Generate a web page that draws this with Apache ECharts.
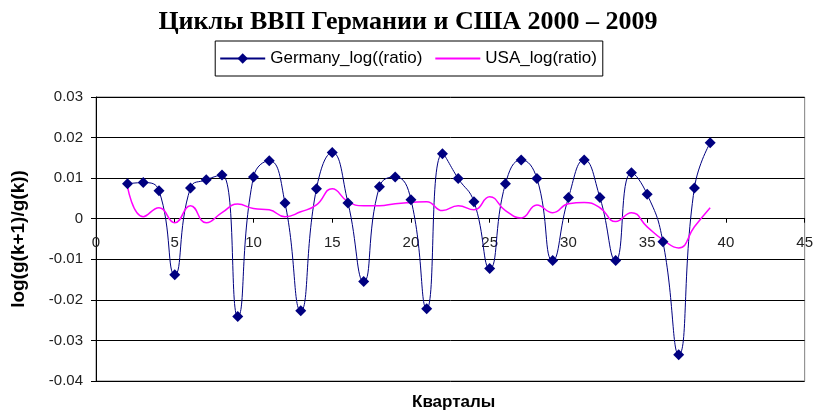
<!DOCTYPE html>
<html>
<head>
<meta charset="utf-8">
<script src="https://cdn.jsdelivr.net/npm/echarts@6/dist/echarts.min.js"></script>
<style>
  html, body { margin: 0; padding: 0; background: #fff; }
  #chart { width: 816px; height: 410px; }
</style>
</head>
<body>
<div id="chart"></div>
<script>
// quarters (x values)
const quarters = [2, 3, 4, 5, 6, 7, 8, 9, 10, 11, 12, 13, 14, 15, 16, 17, 18, 19, 20,
  21, 22, 23, 24, 25, 26, 27, 28, 29, 30, 31, 32, 33, 34, 35, 36, 37, 38, 39];

const germany = [0.0086, 0.0089, 0.0069, -0.0138, 0.0076, 0.0096, 0.0108, -0.0241, 0.0103, 0.0143,
  0.0039, -0.0227, 0.0074, 0.0163, 0.0039, -0.0155, 0.0079, 0.0103, 0.0047, -0.0222,
  0.0160, 0.0099, 0.0042, -0.0123, 0.0086, 0.0145, 0.0099, -0.0103, 0.0052, 0.0145,
  0.0052, -0.0103, 0.0113, 0.0060, -0.0057, -0.0335, 0.0076, 0.0187];

const usa = [0.0079, 0.0005, 0.0027, -0.0010, 0.0032, -0.0010, 0.0015, 0.0036, 0.0025, 0.0022,
  0.0005, 0.0017, 0.0034, 0.0074, 0.0042, 0.0032, 0.0032, 0.0037, 0.0040, 0.0042,
  0.0020, 0.0032, 0.0022, 0.0054, 0.0020, 0.0002, 0.0034, 0.0015, 0.0037, 0.0040,
  0.0027, -0.0007, 0.0015, -0.0020, -0.0052, -0.0072, -0.0020, 0.0027];

const xTicks = { min: 0, max: 45, step: 5 };
const yTicks = { min: -0.04, max: 0.03, step: 0.01 };

const gridTop = 97, gridBottom = 29, chartH = 410;
const plotH = chartH - gridTop - gridBottom;
// x axis sits on y = 0: shift it up from the bottom edge by the share of the range below zero
const xAxisOffset = -plotH * (0 - yTicks.min) / (yTicks.max - yTicks.min);

const chart = echarts.init(document.getElementById('chart'));

chart.setOption({
  animation: false,
  backgroundColor: '#fff',
  title: [
    {
      text: 'Циклы ВВП Германии и США 2000 – 2009',
      left: 'center',
      top: 4,
      textStyle: { fontFamily: 'Liberation Serif', fontWeight: 'bold', fontSize: 26, color: '#000' }
    },
    {
      text: 'Кварталы',
      left: 407,
      top: 389,
      textStyle: { fontFamily: 'Liberation Sans', fontWeight: 'bold', fontSize: 17, color: '#000' }
    }
  ],
  legend: {
    top: 41,
    left: 'center',
    borderColor: '#000',
    borderWidth: 1,
    padding: [9, 6, 9, 4],
    itemWidth: 45,
    itemHeight: 13,
    itemGap: 12,
    textStyle: { fontFamily: 'Liberation Sans', fontSize: 17, color: '#000' },
    data: [
      'Germany_log((ratio)',
      { name: 'USA_log(ratio)', itemStyle: { opacity: 0 } }
    ]
  },
  grid: {
    left: 96, right: 10, top: gridTop, bottom: gridBottom,
    show: true, borderColor: '#808080', borderWidth: 1
  },
  xAxis: {
    type: 'value',
    position: 'bottom',
    offset: xAxisOffset,
    min: xTicks.min, max: xTicks.max, interval: xTicks.step,
    axisLine: { onZero: false, lineStyle: { color: '#000', width: 1 } },
    axisTick: { show: true, inside: false, length: 4, lineStyle: { color: '#000' } },
    axisLabel: { margin: 17, fontFamily: 'Liberation Sans', fontSize: 15, color: '#222' },
    splitLine: { show: false }
  },
  yAxis: {
    type: 'value',
    min: yTicks.min, max: yTicks.max, interval: yTicks.step,
    name: 'log(g(k+1)/g(k))',
    nameLocation: 'middle',
    nameRotate: 90,
    nameGap: 68,
    nameTextStyle: { fontFamily: 'Liberation Sans', fontWeight: 'bold', fontSize: 19, color: '#000' },
    axisLine: { show: true, onZero: false, lineStyle: { color: '#000', width: 1 } },
    axisTick: { show: true, length: 5, lineStyle: { color: '#000' } },
    axisLabel: {
      margin: 13, fontFamily: 'Liberation Sans', fontSize: 15, color: '#222',
      formatter: v => Math.abs(v) < 1e-9 ? '0' : v.toFixed(2)
    },
    splitLine: { show: true, lineStyle: { color: '#000', width: 1 } }
  },
  series: [
    {
      name: 'Germany_log((ratio)',
      type: 'line',
      smooth: 0.5,
      symbol: 'diamond',
      symbolSize: 11,
      itemStyle: { color: '#000080' },
      lineStyle: { color: '#000080', width: 1 },
      data: quarters.map((q, i) => [q, germany[i]])
    },
    {
      name: 'USA_log(ratio)',
      type: 'line',
      smooth: 0.5,
      symbol: 'none',
      itemStyle: { color: '#ff00ff' },
      lineStyle: { color: '#ff00ff', width: 1.5 },
      data: quarters.map((q, i) => [q, usa[i]])
    }
  ]
});
</script>
</body>
</html>
